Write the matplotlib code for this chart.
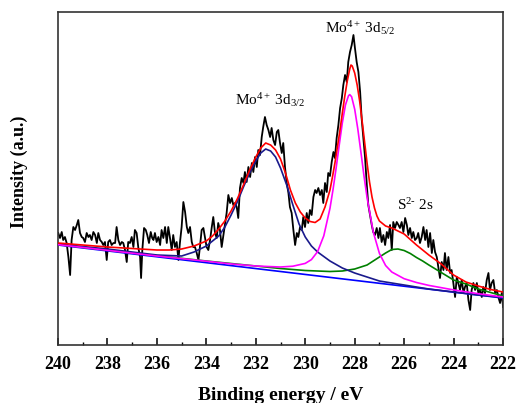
import matplotlib
matplotlib.use('Agg')
import matplotlib.pyplot as plt
from matplotlib.ticker import MultipleLocator

plt.rcParams['font.family'] = ['Liberation Serif', 'DejaVu Serif']
plt.rcParams['mathtext.fontset'] = 'custom'
plt.rcParams['mathtext.rm'] = 'Liberation Serif'
plt.rcParams['mathtext.it'] = 'Liberation Serif:italic'
plt.rcParams['mathtext.bf'] = 'Liberation Serif:bold'
plt.rcParams['mathtext.default'] = 'regular'

# raw spectrum (black)
raw_e = [239.99, 239.92, 239.85, 239.79, 239.72, 239.65, 239.58, 239.51, 239.45, 239.38,
         239.31, 239.24, 239.18, 239.11, 239.04, 238.98, 238.91, 238.84, 238.77, 238.71,
         238.64, 238.57, 238.50, 238.43, 238.37, 238.30, 238.23, 238.17, 238.10, 238.03,
         237.97, 237.90, 237.83, 237.76, 237.69, 237.63, 237.56, 237.49, 237.42, 237.36,
         237.29, 237.22, 237.16, 237.09, 237.02, 236.95, 236.89, 236.82, 236.75, 236.68,
         236.64, 236.59, 236.52, 236.45, 236.39, 236.32, 236.25, 236.19, 236.14, 236.08,
         236.01, 235.94, 235.87, 235.81, 235.74, 235.67, 235.60, 235.54, 235.47, 235.40,
         235.34, 235.27, 235.20, 235.13, 235.07, 235.00, 234.93, 234.86, 234.79, 234.73,
         234.66, 234.59, 234.53, 234.46, 234.39, 234.32, 234.26, 234.19, 234.12, 234.05,
         233.99, 233.92, 233.85, 233.78, 233.72, 233.65, 233.58, 233.52, 233.45, 233.38,
         233.31, 233.24, 233.18, 233.11, 233.04, 232.97, 232.91, 232.84, 232.77, 232.71,
         232.64, 232.57, 232.50, 232.44, 232.37, 232.30, 232.23, 232.16, 232.10, 232.03,
         231.96, 231.90, 231.83, 231.76, 231.70, 231.63, 231.56, 231.49, 231.42, 231.36,
         231.29, 231.22, 231.15, 231.09, 231.02, 230.95, 230.89, 230.82, 230.75, 230.68,
         230.62, 230.55, 230.48, 230.41, 230.34, 230.28, 230.21, 230.14, 230.08, 230.01,
         229.94, 229.88, 229.81, 229.74, 229.67, 229.60, 229.54, 229.47, 229.40, 229.33,
         229.27, 229.20, 229.13, 229.07, 229.00, 228.93, 228.86, 228.80, 228.73, 228.66,
         228.59, 228.52, 228.46, 228.39, 228.32, 228.26, 228.19, 228.12, 228.05, 227.99,
         227.92, 227.85, 227.78, 227.72, 227.65, 227.58, 227.51, 227.45, 227.38, 227.31,
         227.25, 227.18, 227.11, 227.04, 226.98, 226.91, 226.84, 226.77, 226.70, 226.64,
         226.57, 226.50, 226.44, 226.37, 226.30, 226.23, 226.17, 226.10, 226.03, 225.96,
         225.89, 225.83, 225.76, 225.69, 225.63, 225.56, 225.49, 225.43, 225.36, 225.29,
         225.22, 225.15, 225.09, 225.02, 224.95, 224.88, 224.82, 224.75, 224.68, 224.62,
         224.55, 224.48, 224.41, 224.35, 224.28, 224.21, 224.14, 224.08, 224.01, 223.94,
         223.87, 223.81, 223.74, 223.67, 223.60, 223.54, 223.47, 223.40, 223.33, 223.27,
         223.20, 223.13, 223.06, 223.00, 222.93, 222.86, 222.80, 222.73, 222.66, 222.59,
         222.53, 222.46, 222.39, 222.32, 222.25, 222.19, 222.12, 222.05, 222.00]
raw_i = [112, 107, 113, 105, 108, 102, 88, 70, 105, 118,
         115, 120, 125, 112, 108, 107, 103, 112, 108, 110,
         105, 113, 110, 102, 112, 105, 103, 100, 103, 85,
         103, 105, 100, 102, 102, 118, 105, 100, 103, 102,
         95, 83, 103, 102, 108, 98, 115, 112, 97, 88,
         67, 95, 117, 115, 110, 102, 113, 107, 105, 112,
         103, 108, 100, 115, 107, 118, 102, 118, 107, 95,
         110, 98, 103, 85, 102, 118, 143, 133, 118, 112,
         118, 103, 98, 98, 92, 85, 98, 115, 117, 107,
         98, 95, 105, 118, 128, 112, 107, 122, 115, 98,
         110, 122, 132, 150, 142, 147, 140, 142, 138, 127,
         157, 167, 162, 173, 163, 178, 168, 182, 173, 188,
         178, 195, 190, 208, 218, 228, 220, 215, 208, 217,
         205, 200, 213, 215, 202, 192, 202, 178, 162, 152,
         138, 132, 115, 100, 112, 108, 118, 115, 128, 118,
         132, 122, 135, 130, 148, 155, 152, 157, 150, 155,
         142, 162, 153, 172, 169, 183, 193, 187, 207, 220,
         237, 247, 260, 270, 263, 283, 293, 300, 310, 297,
         283, 273, 253, 227, 207, 187, 160, 140, 130, 120,
         113, 110, 117, 107, 117, 103, 110, 100, 113, 107,
         120, 95, 123, 117, 123, 120, 117, 123, 113, 127,
         120, 110, 117, 107, 113, 105, 107, 112, 102, 108,
         118, 105, 115, 98, 112, 92, 105, 93, 88, 78,
         67, 83, 75, 92, 75, 88, 72, 75, 62, 48,
         68, 62, 55, 65, 52, 58, 62, 45, 35, 55,
         62, 55, 62, 52, 55, 48, 58, 52, 65, 72,
         55, 62, 65, 52, 55, 48, 42, 52, 38]

# fitted curves
base_e = [240, 222]
base_i = [100, 47]

navy_e = [240, 238, 236, 235, 234.5, 234, 233.5, 233.25, 233, 232.75,
          232.5, 232.25, 232, 231.8, 231.6, 231.4, 231.2, 231, 230.75, 230.5,
          230.25, 230, 229.75, 229.5, 229, 228.5, 228, 227, 226, 225,
          224, 223, 222]
navy_i = [101, 96, 90, 89, 93, 99, 109, 118, 130, 143,
          158, 172, 184, 192, 196, 194, 188, 177, 160, 140,
          121, 108, 99, 93, 84, 77, 72, 64, 60, 56,
          53, 50, 47.5]

mag_e = [240, 236, 234, 233, 232, 231, 230.5, 230, 229.75, 229.5,
         229.25, 229, 228.875, 228.75, 228.625, 228.5, 228.375, 228.25, 228.2, 228.125,
         228, 227.875, 227.75, 227.625, 227.5, 227.25, 227, 226.75, 226.5, 226,
         225.5, 225, 224, 223, 222]
mag_i = [100.4, 89, 83.8, 81.1, 79, 78, 78.8, 81.6, 85.4, 93.4,
         109.2, 136.7, 155.7, 177.2, 200.1, 222.2, 240, 249.3, 250.4, 248.3,
         235.8, 216.2, 193.1, 169.3, 147.5, 113.1, 91.6, 79.5, 73, 66.3,
         62.5, 59.6, 55.1, 51.3, 48]

green_e = [240, 237, 234, 232, 231, 230, 229, 228.5, 228, 227.5,
           227.25, 227, 226.75, 226.5, 226.25, 226, 225.75, 225.5, 225.25, 225,
           224.5, 224, 223.5, 223, 222.5, 222]
green_i = [100.5, 92, 84, 79, 76.5, 74.5, 73.5, 74, 76, 80,
           84, 88, 92, 95.5, 96, 94.5, 91.5, 87.5, 84, 80,
           72.5, 65, 61, 56, 52.5, 49]

env_e = [240, 239, 238, 237, 236, 235.5, 235, 234.5, 234, 233.75,
         233.5, 233.25, 233, 232.75, 232.5, 232.25, 232, 231.8, 231.6, 231.4,
         231.2, 231, 230.8, 230.6, 230.4, 230.2, 230, 229.8, 229.6, 229.4,
         229.2, 229, 228.9, 228.8, 228.7, 228.6, 228.5, 228.4, 228.3, 228.2,
         228.15, 228.1, 228, 227.9, 227.8, 227.7, 227.6, 227.5, 227.4, 227.3,
         227.2, 227.1, 227, 226.75, 226.5, 226, 225.5, 225, 224.5, 224,
         223.5, 223, 222.5, 222]
env_i = [102, 100, 98, 96.5, 95, 95, 96, 99, 104, 109,
         116, 124, 134, 146, 160, 175, 188, 197, 202, 200,
         195, 186, 172, 155, 142, 133, 127, 123.5, 122.5, 126,
         138, 155, 168, 182, 198, 214, 232, 249, 264, 276,
         280, 279, 272, 260, 244, 224, 203, 182, 163, 148,
         137, 129, 124, 119, 117, 111, 100, 90, 81, 70,
         63, 59, 55.5, 53]

fig = plt.figure(figsize=(5.17, 4.03), dpi=100)
ax = fig.add_axes([0.1122, 0.1439, 0.8608, 0.8263])

ax.plot(raw_e, raw_i, color='black', lw=1.3, zorder=2)
ax.plot(base_e, base_i, color='#0000ff', lw=1.2, zorder=3)
ax.plot(green_e, green_i, color='#008000', lw=1.2, zorder=3)
ax.plot(navy_e, navy_i, color='#1a1a8c', lw=1.2, zorder=3)
ax.plot(mag_e, mag_i, color='#ff00ff', lw=1.2, zorder=3)
ax.plot(env_e, env_i, color='#ff0000', lw=1.2, zorder=4)

ax.set_xlim(240, 222)
ax.set_ylim(0, 333)
ax.xaxis.set_major_locator(MultipleLocator(2))
ax.xaxis.set_minor_locator(MultipleLocator(1))
ax.tick_params(axis='x', which='major', direction='in', length=5, width=1.1,
               labelsize=13, pad=8, top=False)
ax.tick_params(axis='x', which='minor', direction='in', length=2.5, width=1.0, top=False)
ax.set_yticks([])
for lab in ax.get_xticklabels():
    lab.set_fontweight('bold')
for sp in ax.spines.values():
    sp.set_linewidth(1.2)
    sp.set_color('#333333')

ax.set_xlabel('Binding energy / eV', fontsize=14, fontweight='bold', labelpad=10)
ax.set_ylabel('Intensity (a.u.)', fontsize=13, fontweight='bold')
ax.yaxis.set_label_coords(-0.068, 0.52)

ax.text(232.84, 240, r'Mo$^{4+}$ 3d$_{3/2}$', fontsize=11, ha='left', va='baseline')
ax.text(229.2, 312, r'Mo$^{4+}$ 3d$_{5/2}$', fontsize=11, ha='left', va='baseline')
ax.text(226.3, 135, 'S$^{2\u2010}$ 2s', fontsize=11, ha='left', va='baseline')

fig.savefig('out.png', dpi=100)
